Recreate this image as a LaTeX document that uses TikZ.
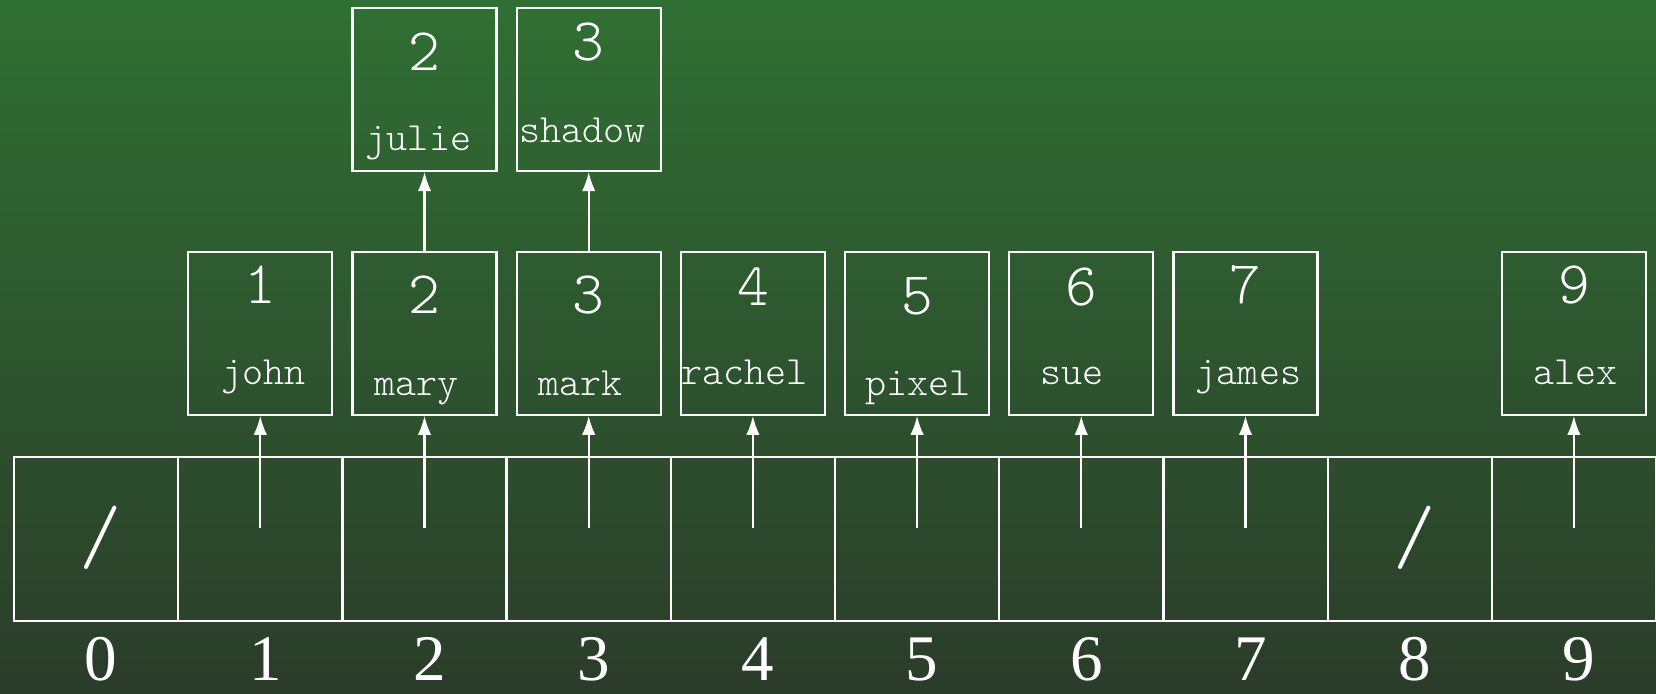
\documentclass[tikz,border=0pt]{standalone}
\usepackage{fontspec}
\setmainfont{Liberation Serif}
\setmonofont{lmmonolt10-regular.otf}
\usetikzlibrary{arrows.meta,positioning,calc}
\definecolor{BoardTop}{RGB}{48,111,51}
\definecolor{BoardBottom}{RGB}{43,60,42}

\begin{document}
\begin{tikzpicture}[x=0.01cm,y=0.01cm,>={Latex[length=5.4pt,width=3.8pt]},
  slot/.style={draw=white,line width=0.6pt,minimum width=1.642cm,minimum height=1.642cm,inner sep=0pt},
  entry/.style={draw=white,line width=0.6pt,minimum width=1.44cm,minimum height=1.625cm,inner sep=0pt},
  link/.style={->,white,line width=0.6pt},
  idx/.style={white,font=\fontsize{18.5}{18.5}\selectfont,anchor=base,inner sep=0pt},
  key/.style={white,font=\ttfamily\fontsize{17.2}{17.2}\selectfont,anchor=base,inner sep=0pt},
  nametext/.style={white,font=\ttfamily\fontsize{11.4}{11.4}\selectfont,anchor=base,inner sep=0pt},
  nullmark/.style={white,font=\ttfamily\fontsize{23}{23}\selectfont,inner sep=0pt}]
  \shade[top color=BoardTop,bottom color=BoardBottom] (0,0) rectangle (1656,694);
  \useasboundingbox (0,0) rectangle (1656,694);
  % the table
  \foreach \i in {0,...,9}{
    \node[slot] (c\i) at ({14+164.2*(\i+0.5)},155) {};
    \node[idx] (n\i) at ($(c\i)+(5,-142)$) {\i};
  }
  \node[nullmark] (s0) at ($(c0)+(5,1)$) {/};
  \node[nullmark] (s8) at ($(c8)+(5,1)$) {/};
  % first entries
  \foreach \i/\who/\kdy/\ndx/\ndy in {1/john/52/3/31, 2/mary/62/-8/20, 3/mark/62/-8/20,
      4/rachel/54/-8/31, 5/pixel/63/1/20, 6/sue/54/-9/31, 7/james/52/3/31, 9/alex/52/2/31}{
    \node[entry,above=0.4cm of c\i] (b\i) {};
    \node[key] (k\i) at ($(b\i.north)+(0,-\kdy)$) {\i};
    \node[nametext] (w\i) at ($(b\i.south)+(\ndx,\ndy)$) {\who};
    \coordinate (t\i) at ($(c\i)+(0,11)$);
    \draw[link] (t\i) -- (b\i);
  }
  % chained entries
  \foreach \i/\who/\kdy/\ndx/\ndy in {2/julie/63/-6/22, 3/shadow/53/-6/30}{
    \node[entry,above=0.79cm of b\i] (u\i) {};
    \node[key] (q\i) at ($(u\i.north)+(0,-\kdy)$) {\i};
    \node[nametext] (v\i) at ($(u\i.south)+(\ndx,\ndy)$) {\who};
    \draw[link] (b\i) -- (u\i);
  }
\end{tikzpicture}
\end{document}
